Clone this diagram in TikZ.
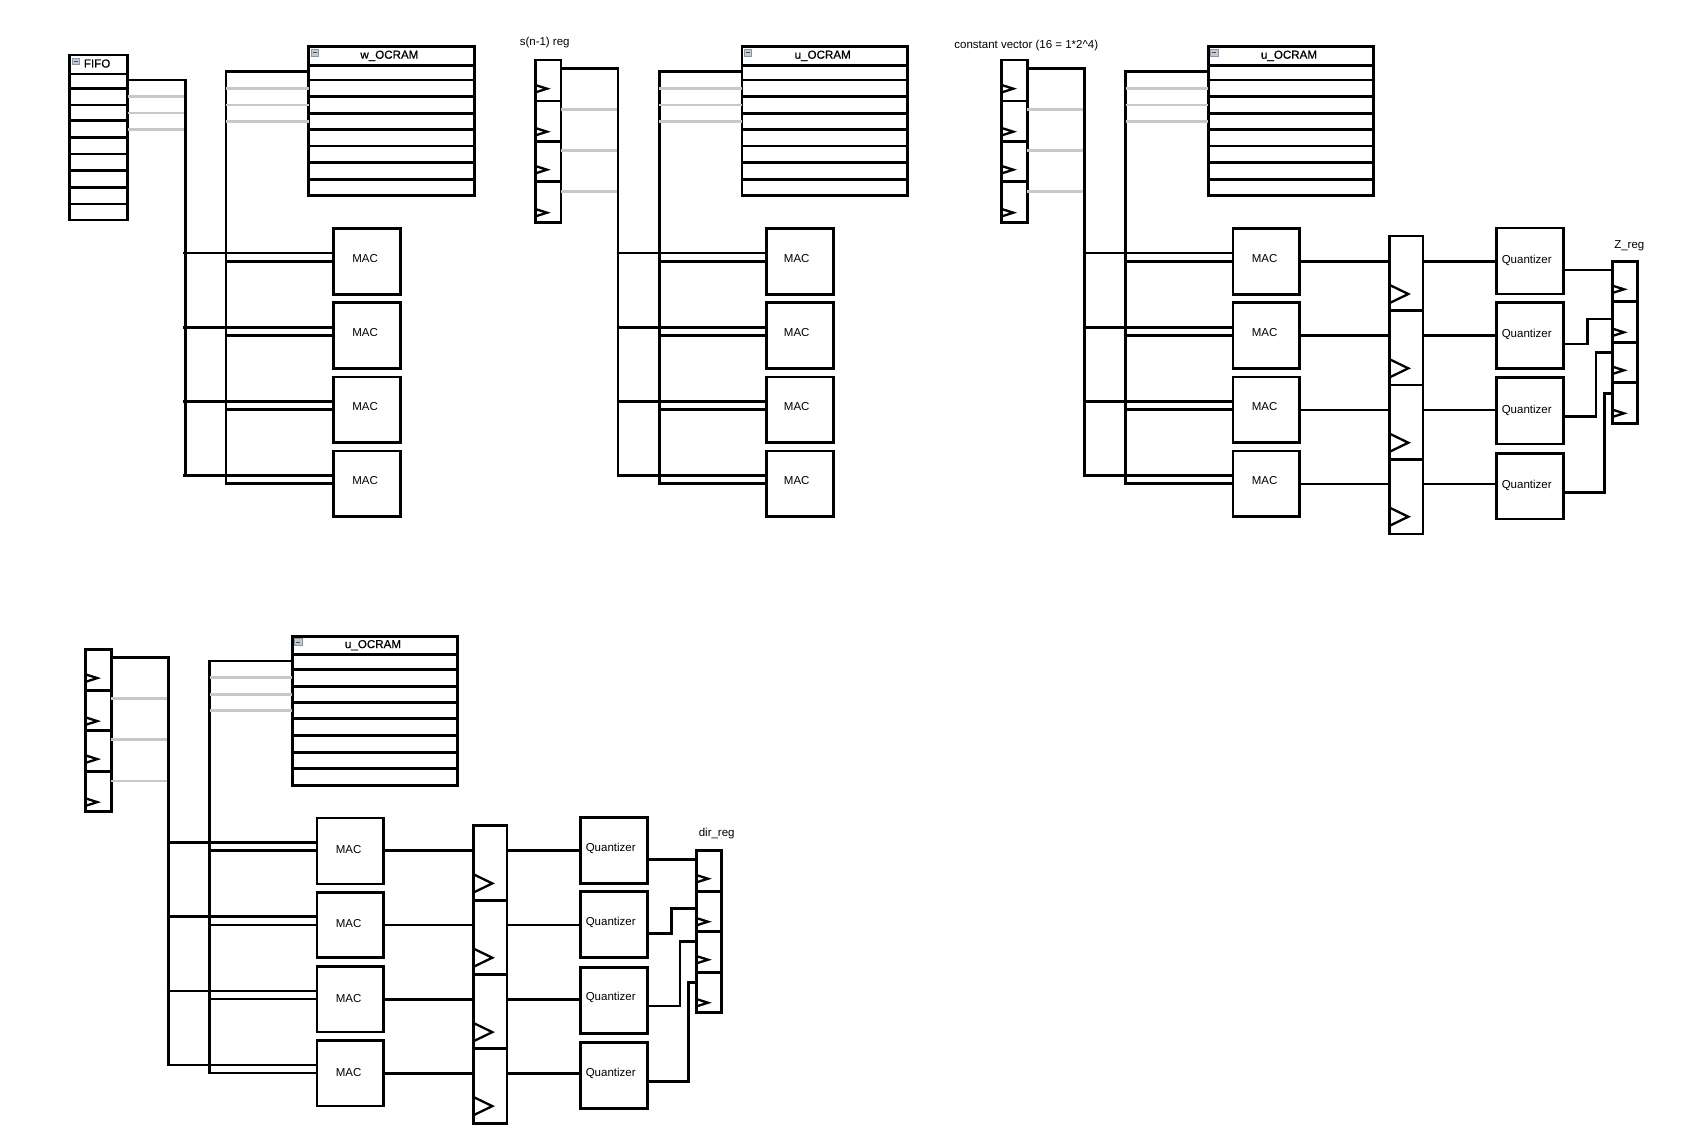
\documentclass[tikz,border=0pt]{standalone}
\usepackage{fontspec}
\setmainfont{Liberation Sans}
\definecolor{wiregray}{HTML}{C8C8C8}
\definecolor{iconfill}{HTML}{C3C9D1}
\definecolor{iconedge}{HTML}{8C96A3}
\newfontfamily\titlefont[FakeBold=0.6]{Liberation Sans}
\def\macdx{-1.7pt}\def\macdy{3.2pt}\def\qdy{0.9pt}
\tikzset{
  cell/.style={draw=black,line width=2.8pt,rectangle,inner sep=0pt,outer sep=0pt,anchor=north west,fill=white},
  wire/.style={draw=black,line width=2.6pt,line join=miter},
  graywire/.style={draw=wiregray,line width=2.6pt},
  clk/.style={draw=black,line width=2.3pt,line join=miter},
  lab/.style={font=\fontsize{11.5pt}{13pt}\selectfont,inner sep=0pt,text=black},
  ttl/.style={font=\fontsize{11.6pt}{13pt}\titlefont,inner sep=0pt,text=black},
  macbox/.style={label={[lab,xshift=\macdx,yshift=\macdy]center:MAC}},
  qbox/.style={label={[lab,xshift=-3.3pt,yshift=\qdy]center:Quantizer}},
}
% cell node: [opts]{name}{x1}{y1}{x2}{y2}
\newcommand\cellnode[6][]{\node[cell,minimum width={(#5-#3)*1pt},minimum height={(#6-#4)*1pt},#1] (#2) at (#3,#4) {};}
% icon: x y of its top left
\newcommand\minusicon[2]{%
  \fill[iconfill,draw=iconedge,line width=.6pt] (#1,#2) rectangle ++(7.3,6.6);
  \draw[black!70,line width=.9pt] ({#1+1.6},{#2+3.3}) -- ++(4.1,0);}
% RAM, two buses and four MACs (drawn in the frame of the top right group)
\newcommand\ramgroup[1]{%
  \cellnode[label={[ttl,xshift=-2pt,yshift=0.2pt]center:#1}]{rt}{1208.3}{46.7}{1373.7}{65.3}
  \foreach \i/\a/\b in {1/65.3/80,2/80/96.7,3/96.7/113.3,4/113.3/129.3,5/129.3/146,6/146/162.7,7/162.7/179.3,8/179.3/195.7}{
    \cellnode{rr\i}{1208.3}{\a}{1373.7}{\b}}
  \minusicon{1210.6}{49.3}
  \foreach \i/\a/\b in {1/228.5/294.5,2/302.8/368.3,3/377/442.5,4/451/516.5}{
    \cellnode[macbox]{mac\i}{1233}{\a}{1299.7}{\b}}
  \coordinate (rbt) at (1125.7,71.7);
  \coordinate (rbb) at (1125.7,483.7);
  \coordinate (sbb) at (1084.3,475.5);
  \draw[wire] (rr1.west |- rbt) -- (rbt) -- (rbb);
  \foreach \r/\y in {2/88.3,3/105,4/121.3}{
    \coordinate (rg\r) at (1125.7,\y);
    \draw[graywire] (rg\r) -- (rr\r.west |- rg\r);}
  \foreach \i/\a/\b in {1/253/261.3,2/327.3/335.5,3/401.4/409.6,4/475.5/483.7}{
    \coordinate (ja\i) at (1082.8,\a);
    \coordinate (jb\i) at (1124.2,\b);
    \draw[wire] (ja\i) -- (mac\i.west |- ja\i);
    \draw[wire] (jb\i) -- (mac\i.west |- jb\i);}
}
% four clocked register cells with its feed into the bus
\newcommand\inreg{%
  \foreach \i/\a/\b/\t in {1/60/101/88.7,2/101/141.3/131.7,3/141.3/181.7/169.7,4/181.7/222.3/212.7}{
    \cellnode{in\i}{1001.7}{\a}{1027.3}{\b}
    \draw[clk] (1001.7,\t-3.7) -- (1013.3,\t) -- (1001.7,\t+3.7);}
  \coordinate (sbt) at (1084.3,68.3);
  \draw[wire] (in1.east |- sbt) -- (sbt) -- (sbb);
  \foreach \r/\y in {2/109.3,3/150.3,4/191.7}{
    \coordinate (sg\r) at (1082.8,\y);
    \draw[graywire] (in\r.east |- sg\r) -- (sg\r);}
}
% output register stage, quantizers and small output register
\newcommand\outstage{%
  \foreach \i/\a/\b/\t in {1/236/310.7/294,2/310.7/385/368.3,3/385/459.3/442.7,4/459.3/534/516.7}{
    \cellnode{st\i}{1389.7}{\a}{1423}{\b}
    \draw[clk] (1389.7,\t-9) -- (1408.3,\t) -- (1389.7,\t+9);}
  \foreach \i/\a/\b in {1/228/294,2/302.3/368.3,3/377.7/444,4/453.3/519}{
    \cellnode[qbox]{q\i}{1496.7}{\a}{1563.3}{\b}}
  \foreach \i/\a/\b/\t in {1/261.3/301.7/289.3,2/301.7/342.3/332.3,3/342.3/382.7/370.3,4/382.7/423.3/413.3}{
    \cellnode{z\i}{1612.3}{\a}{1637.3}{\b}
    \draw[clk] (1612.3,\t-3.7) -- (1624,\t) -- (1612.3,\t+3.7);}
  \foreach \i/\y in {1/261.3,2/335.4,3/410,4/484}{
    \coordinate (mo\i) at (1400,\y);
    \draw[wire] (mac\i.east |- mo\i) -- (st\i.west |- mo\i);
    \draw[wire] (st\i.east |- mo\i) -- (q\i.west |- mo\i);}
  \coordinate (e1) at (1563.3,270);
  \draw[wire] (q1.east |- e1) -- (z1.west |- e1);
  \foreach \i/\x/\ya/\yb in {2/1587.7/344/319,3/1596/416.7/352.3,4/1604.3/492.3/393.3}{
    \coordinate (ka\i) at (\x,\ya);
    \coordinate (kb\i) at (\x,\yb);
    \draw[wire] (q\i.east |- ka\i) -- (ka\i) -- (kb\i) -- (z\i.west |- kb\i);}
}
\begin{document}
\begin{tikzpicture}[x=1pt,y=-1pt]
\useasboundingbox (0,0) rectangle (1708,1133);
\fill[white] (0,0) rectangle (1708,1133);

% group A: FIFO and w_OCRAM
\begin{scope}[shift={(-899.6,0)},name prefix=a-]
  \ramgroup{w\_OCRAM}
  \cellnode[label={[ttl,xshift=-1.5pt,yshift=1pt]center:FIFO}]{ft}{969.1}{55}{1027.3}{74}
  \foreach \i/\a/\b in {1/74/88.3,2/88.3/105,3/105/120.7,4/120.7/137.3,5/137.3/154,6/154/170.7,7/170.7/187.3,8/187.3/204,9/204/220}{
    \cellnode{f\i}{969.1}{\a}{1027.3}{\b}}
  \minusicon{971.6}{58}
  \coordinate (sbt) at (1084.9,80);
  \coordinate (sbe) at (1084.9,475.5);
  \draw[wire] (f1.east |- sbt) -- (sbt) -- (sbe);
  \foreach \r/\y in {2/96.3,3/113,4/129.3}{
    \coordinate (sg\r) at (1083.4,\y);
    \draw[graywire] (f\r.east |- sg\r) -- (sg\r);}
\end{scope}

% group B: s(n-1) reg and u_OCRAM
\begin{scope}[shift={(-466.3,0)},name prefix=b-]
  \def\macdx{-3.3pt}
  \ramgroup{u\_OCRAM}
  \inreg
\end{scope}
\node[lab] (snreg) at (544.7,42.6) {s(n-1) reg};

% group C: constant vector, u_OCRAM and Z_reg
\begin{scope}[name prefix=c-]
  \def\qdy{0.9pt}
  \ramgroup{u\_OCRAM}
  \inreg
  \outstage
\end{scope}
\node[lab] (cvec) at (1026.3,45.6) {constant vector (16 = 1*2\textasciicircum 4)};
\node[lab] (zreg) at (1629.3,245.8) {Z\_reg};

% group D: u_OCRAM and dir_reg
\begin{scope}[shift={(-916,589.4)},name prefix=d-]
  \def\macdy{1pt}\def\qdy{2.4pt}
  \ramgroup{u\_OCRAM}
  \inreg
  \outstage
\end{scope}
\node[lab] (dreg) at (716.7,834) {dir\_reg};
\end{tikzpicture}
\end{document}
